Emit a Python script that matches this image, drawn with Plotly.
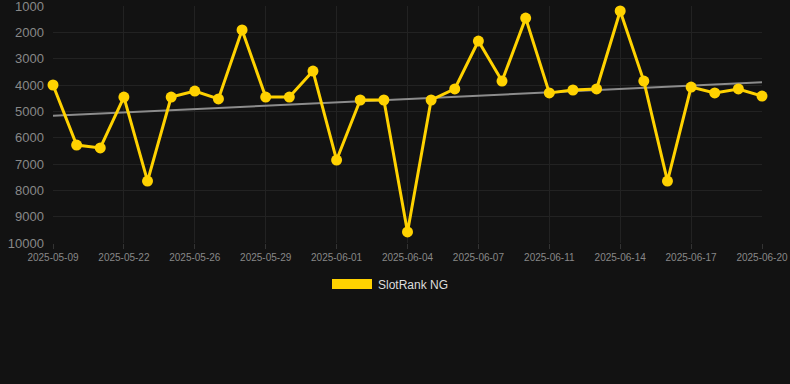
import plotly.graph_objects as go
import numpy as np

dates = [
    "2025-05-09", "2025-05-13", "2025-05-18", "2025-05-22", "2025-05-23", "2025-05-24",
    "2025-05-26", "2025-05-27", "2025-05-28", "2025-05-29", "2025-05-30", "2025-05-31",
    "2025-06-01", "2025-06-02", "2025-06-03", "2025-06-04", "2025-06-05", "2025-06-06",
    "2025-06-07", "2025-06-09", "2025-06-10", "2025-06-11", "2025-06-12", "2025-06-13",
    "2025-06-14", "2025-06-15", "2025-06-16", "2025-06-17", "2025-06-18", "2025-06-19",
    "2025-06-20",
]
ranks = [
    4000, 6280, 6390, 4460, 7650, 4460,
    4230, 4530, 1910, 4460, 4460, 3470,
    6850, 4570, 4570, 9580, 4570, 4150,
    2330, 3850, 1460, 4300, 4190, 4150,
    1190, 3850, 7650, 4080, 4300, 4150,
    4420,
]
tick_labels = dates[::3]
y_ticks = [1000, 2000, 3000, 4000, 5000, 6000, 7000, 8000, 9000, 10000]
series_name = "SlotRank NG"

idx = np.arange(len(ranks))
slope, intercept = np.polyfit(idx, ranks, 1)
trend = [intercept + slope * i for i in idx]

fig = go.Figure()
fig.add_trace(go.Scatter(
    x=dates, y=trend, mode="lines",
    line=dict(color="#8c8c8c", width=2),
    showlegend=False, hoverinfo="skip", cliponaxis=False,
))
fig.add_trace(go.Scatter(
    x=dates, y=ranks, mode="lines+markers", name=series_name,
    line=dict(color="#FFD200", width=3),
    marker=dict(color="#FFD200", size=11),
    showlegend=False, cliponaxis=False,
))

# legend drawn manually
fig.add_shape(type="rect", xref="paper", yref="paper",
              x0=(332 - 53) / 709, x1=(372 - 53) / 709,
              y0=-(279 - 243) / 237, y1=-(289 - 243) / 237,
              fillcolor="#FFD200", line=dict(width=0))
fig.add_annotation(xref="paper", yref="paper",
                   x=(376 - 53) / 709, y=-(285 - 243) / 237,
                   text=series_name, showarrow=False, xanchor="left", yanchor="middle",
                   font=dict(color="#dddddd", size=12, family="Liberation Sans, Arial, sans-serif"))

fig.update_layout(
    width=790, height=384,
    margin=dict(l=53, r=28, t=6, b=141, autoexpand=False),
    paper_bgcolor="#121212", plot_bgcolor="#121212",
    font=dict(family="Liberation Sans, Arial, sans-serif", color="#888888"),
    showlegend=False,
)
fig.update_xaxes(
    type="category", categoryorder="array", categoryarray=dates,
    range=[0, len(dates) - 1], automargin=False, ticklabeloverflow="allow",
    tickmode="array", tickvals=tick_labels, ticktext=tick_labels,
    tickfont=dict(size=10, color="#888888"),
    showgrid=True, gridcolor="#222222", gridwidth=1,
    zeroline=False, showline=False,
    ticks="outside", ticklen=5, tickcolor="#333333",
)
fig.update_yaxes(
    range=[10000, 1000], autorange=False, automargin=False, ticklabeloverflow="allow",
    tickmode="array", tickvals=y_ticks, ticktext=[str(v) for v in y_ticks],
    tickfont=dict(size=13, color="#888888"),
    showgrid=True, gridcolor="#222222", gridwidth=1,
    zeroline=False, showline=False, ticks="", ticklabelstandoff=8,
)

fig.write_html("out.html")
